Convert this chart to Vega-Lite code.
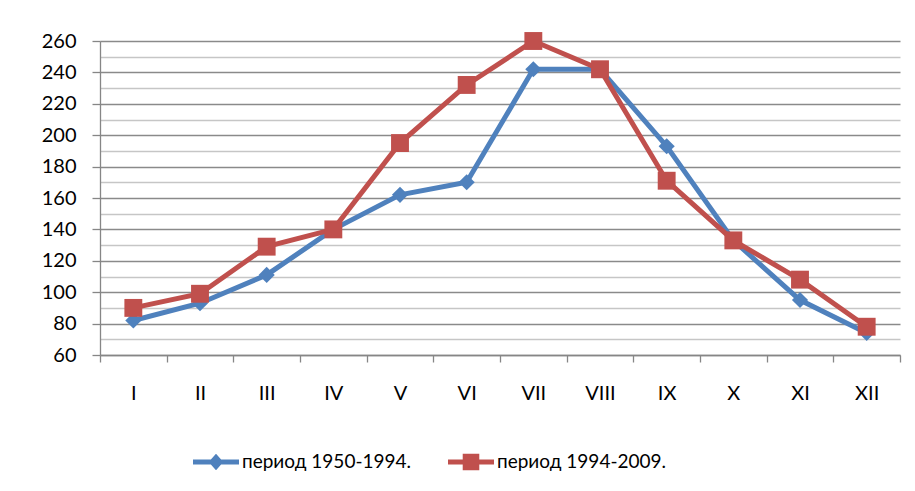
{
  "$schema": "https://vega.github.io/schema/vega-lite/v6.json",
  "autosize": "none",
  "width": 800,
  "height": 314,
  "padding": {"left": 100, "top": 41, "right": 15, "bottom": 136},
  "background": "white",
  "config": {
    "view": {"stroke": null},
    "font": "Lato",
    "axis": {"labelFont": "Lato", "labelFontSize": 20, "labelColor": "black", "domainColor": "#868686", "tickColor": "#868686", "domainWidth": 1.3, "tickWidth": 1.3}
  },
  "data": {
    "values": [
      {"month": 1, "series": "период 1950-1994.", "value": 82},
      {"month": 2, "series": "период 1950-1994.", "value": 93},
      {"month": 3, "series": "период 1950-1994.", "value": 111},
      {"month": 4, "series": "период 1950-1994.", "value": 140},
      {"month": 5, "series": "период 1950-1994.", "value": 162},
      {"month": 6, "series": "период 1950-1994.", "value": 170},
      {"month": 7, "series": "период 1950-1994.", "value": 242},
      {"month": 8, "series": "период 1950-1994.", "value": 242},
      {"month": 9, "series": "период 1950-1994.", "value": 193},
      {"month": 10, "series": "период 1950-1994.", "value": 133},
      {"month": 11, "series": "период 1950-1994.", "value": 95},
      {"month": 12, "series": "период 1950-1994.", "value": 74},
      {"month": 1, "series": "период 1994-2009.", "value": 90},
      {"month": 2, "series": "период 1994-2009.", "value": 99},
      {"month": 3, "series": "период 1994-2009.", "value": 129},
      {"month": 4, "series": "период 1994-2009.", "value": 140},
      {"month": 5, "series": "период 1994-2009.", "value": 195},
      {"month": 6, "series": "период 1994-2009.", "value": 232},
      {"month": 7, "series": "период 1994-2009.", "value": 260},
      {"month": 8, "series": "период 1994-2009.", "value": 242},
      {"month": 9, "series": "период 1994-2009.", "value": 171},
      {"month": 10, "series": "период 1994-2009.", "value": 133},
      {"month": 11, "series": "период 1994-2009.", "value": 108},
      {"month": 12, "series": "период 1994-2009.", "value": 78}
    ]
  },
  "encoding": {
    "y": {
      "field": "value", "type": "quantitative",
      "scale": {"domain": [60, 260], "nice": false, "zero": false},
      "axis": {
        "title": null,
        "values": [60, 70, 80, 90, 100, 110, 120, 130, 140, 150, 160, 170, 180, 190, 200, 210, 220, 230, 240, 250, 260],
        "labelExpr": "datum.value % 20 === 0 ? datum.label : ''",
        "labelOverlap": false,
        "tickSize": 8,
        "labelPadding": 16,
        "tickOpacity": {"condition": {"test": "datum.value % 20 === 0", "value": 1}, "value": 0},
        "grid": true,
        "gridColor": {"condition": {"test": "datum.value % 20 === 0", "value": "#8a8a8a"}, "value": "#c6c6c6"},
        "gridWidth": 1.3,
        "gridOpacity": 1
      }
    },
    "color": {
      "field": "series", "type": "nominal",
      "scale": {"domain": ["период 1950-1994.", "период 1994-2009."], "range": ["#4F81BD", "#C0504D"]},
      "legend": {
        "title": null,
        "orient": "none",
        "legendX": 93,
        "legendY": 398,
        "direction": "horizontal",
        "labelFont": "Lato",
        "labelFontSize": 19,
        "labelColor": "black",
        "labelLimit": 0,
        "labelOffset": 3,
        "columnPadding": 36,
        "symbolSize": 2116,
        "symbolType": "M-1,-0.11L1,-0.11L1,0.11L-1,0.11Z",
        "encode": {
          "symbols": {
            "update": {
              "shape": {"signal": "datum.value === 'период 1950-1994.' ? 'M-1,-0.11L1,-0.11L1,0.11L-1,0.11Z M-0.32,0L0,-0.36L0.32,0L0,0.36Z' : 'M-1,-0.11L1,-0.11L1,0.11L-1,0.11Z M-0.36,-0.36L0.36,-0.36L0.36,0.36L-0.36,0.36Z'"},
              "fill": {"signal": "datum.value === 'период 1950-1994.' ? '#4F81BD' : '#C0504D'"},
              "fillOpacity": {"value": 1},
              "opacity": {"value": 1},
              "stroke": {"value": "transparent"},
              "strokeWidth": {"value": 0},
              "size": {"value": 2116}
            }
          }
        }
      }
    }
  },
  "resolve": {"axis": {"x": "independent"}},
  "layer": [
    {
      "mark": {"type": "line", "strokeWidth": 5},
      "encoding": {
        "x": {
          "field": "month", "type": "quantitative",
          "scale": {"domain": [0.5, 12.5], "nice": false, "zero": false},
          "axis": {"orient": "bottom", "title": null, "values": [0.5, 1.5, 2.5, 3.5, 4.5, 5.5, 6.5, 7.5, 8.5, 9.5, 10.5, 11.5, 12.5], "labels": false, "grid": false, "tickSize": 7}
        }
      }
    },
    {
      "transform": [{"filter": "datum.series === 'период 1950-1994.'"}],
      "mark": {"type": "point", "filled": true, "opacity": 1, "shape": "diamond", "size": 260},
      "encoding": {
        "x": {
          "field": "month", "type": "quantitative",
          "axis": {"orient": "bottom", "title": null, "values": [1, 2, 3, 4, 5, 6, 7, 8, 9, 10, 11, 12], "ticks": false, "domain": false, "grid": false, "labelPadding": 28,
            "labelExpr": "['I','II','III','IV','V','VI','VII','VIII','IX','X','XI','XII'][datum.value - 1]"}
        }
      }
    },
    {
      "transform": [{"filter": "datum.series === 'период 1994-2009.'"}],
      "mark": {"type": "point", "filled": true, "opacity": 1, "shape": "square", "size": 320},
      "encoding": {
        "x": {"field": "month", "type": "quantitative", "axis": null}
      }
    }
  ]
}
